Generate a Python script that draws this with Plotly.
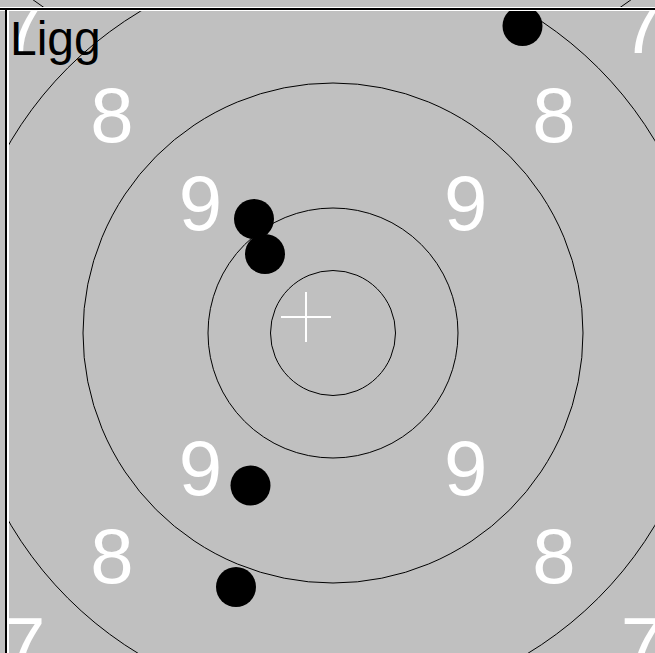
import numpy as np
import plotly.graph_objects as go

# ---------------- data ----------------
title_text = "Ligg"
ring_radii = [62.5, 125, 250, 375, 500]          # target ring radii (target units)
band_scores = [9, 8, 7]                           # scores of bands between ring_radii[1..4]
shot_x = [189.5, -79.0, -68.0, -82.5, -97.0]      # shot positions (target units, centre = 0,0)
shot_y = [307.0, 114.0, 79.0, -152.5, -254.0]
mpi_x, mpi_y = -27.0, 16.0                        # mean point of impact (cross)
upper_target_center = (-1.0, 734.0)               # previous target, only its ring edge is visible
upper_ring_radius = 500

# ---------------- style / layout ----------------
W, H = 655, 653
BG = "#c0c0c0"
LEFT_PX, TOP_PX = 9, 10
CX_PX, CY_PX = 333, 333
FONT = "Liberation Sans, Arial, sans-serif"
LABEL_DY = -10   # vertical text baseline correction (px)

x_range = [LEFT_PX - CX_PX, W - CX_PX]
y_range = [CY_PX - H, CY_PX - TOP_PX]

fig = go.Figure()

# rings
for r in ring_radii:
    fig.add_shape(type="circle", xref="x", yref="y", x0=-r, y0=-r, x1=r, y1=r,
                  line=dict(color="black", width=1), layer="below")

# band labels along diagonals at mid radius
lx, ly, lt = [], [], []
for i, s in enumerate(band_scores):
    rmid = (ring_radii[i + 1] + ring_radii[i + 2]) / 2
    d = rmid / np.sqrt(2)
    for sx, sy in [(-1, 1), (1, 1), (-1, -1), (1, -1)]:
        lx.append(sx * d)
        ly.append(sy * d + LABEL_DY)
        lt.append(str(s))
fig.add_trace(go.Scatter(x=lx, y=ly, text=lt, mode="text", textposition="middle center",
                         textfont=dict(family=FONT, size=78, color="white"),
                         cliponaxis=True, hoverinfo="skip", showlegend=False))

# cross at mean point of impact
arm = 25
fig.add_trace(go.Scatter(x=[mpi_x - arm, mpi_x + arm, None, mpi_x, mpi_x],
                         y=[mpi_y, mpi_y, None, mpi_y - arm, mpi_y + arm],
                         mode="lines", line=dict(color="white", width=2),
                         hoverinfo="skip", showlegend=False))

# shots
fig.add_trace(go.Scatter(x=shot_x, y=shot_y, mode="markers",
                         marker=dict(size=40, color="black", line=dict(width=0)),
                         cliponaxis=True, showlegend=False))

# upper target ring (top strip)
ux, uy = upper_target_center
fig.add_shape(type="circle", xref="x2", yref="y2",
              x0=ux - upper_ring_radius, x1=ux + upper_ring_radius,
              y0=uy - upper_ring_radius, y1=uy + upper_ring_radius,
              line=dict(color="black", width=1), layer="below")


def px_x(p):
    return p / W


def px_y(p):
    return 1 - p / H


# borders (top double line and left line)
fig.add_shape(type="rect", xref="paper", yref="paper", x0=0, x1=1,
              y0=px_y(11), y1=px_y(7), fillcolor="white", line=dict(width=0), layer="above")
fig.add_shape(type="rect", xref="paper", yref="paper", x0=0, x1=1,
              y0=px_y(10), y1=px_y(8), fillcolor="black", line=dict(width=0), layer="above")
fig.add_shape(type="rect", xref="paper", yref="paper", x0=px_x(7), x1=px_x(9),
              y0=0, y1=px_y(10), fillcolor="white", line=dict(width=0), layer="above")
fig.add_shape(type="rect", xref="paper", yref="paper", x0=px_x(5), x1=px_x(7),
              y0=0, y1=px_y(8), fillcolor="black", line=dict(width=0), layer="above")

fig.add_annotation(text=title_text, xref="paper", yref="paper",
                   x=px_x(LEFT_PX), y=px_y(TOP_PX + 1), xanchor="left", yanchor="top",
                   showarrow=False, borderpad=0,
                   font=dict(family=FONT, size=48, color="black"))

axis_common = dict(showgrid=False, zeroline=False, showticklabels=False, ticks="",
                   showline=False, fixedrange=True)
fig.update_layout(
    width=W, height=H,
    margin=dict(l=0, r=0, t=0, b=0),
    paper_bgcolor=BG, plot_bgcolor=BG,
    showlegend=False,
    xaxis=dict(range=x_range, domain=[LEFT_PX / W, 1], **axis_common),
    yaxis=dict(range=y_range, domain=[0, 1 - TOP_PX / H], **axis_common),
    xaxis2=dict(range=[-CX_PX, W - CX_PX], domain=[0, 1], anchor="y2", **axis_common),
    yaxis2=dict(range=[CY_PX - 7, CY_PX], domain=[1 - 7 / H, 1], anchor="x2", **axis_common),
)

fig.write_html("out.html", config={"displayModeBar": False, "staticPlot": True},
               post_script="document.body.style.margin='0';document.body.style.overflow='hidden';")
